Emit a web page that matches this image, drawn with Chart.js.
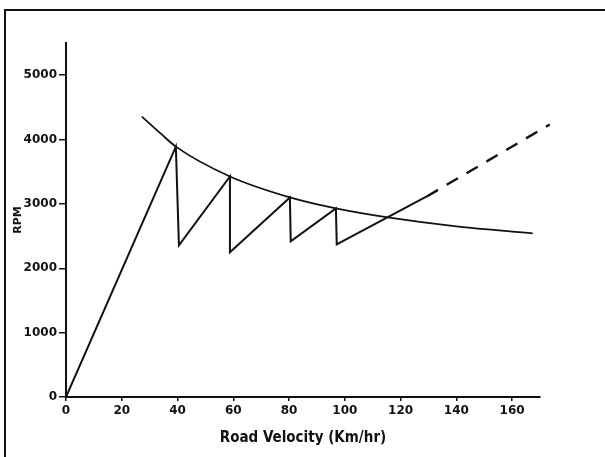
<!DOCTYPE html>
<html>
<head>
<meta charset="utf-8">
<title>RPM vs Road Velocity</title>
<script src="https://cdn.jsdelivr.net/npm/chart.js@4"></script>
<style>
  body { margin: 0; background: #fff; overflow: hidden; }
  #wrap { position: relative; width: 605px; height: 457px; }
  #frame { position: absolute; left: 4px; top: 9px; right: -10px; bottom: -10px;
           border-left: 2px solid #111; border-top: 2px solid #111; }
  #chart { position: absolute; left: 0; top: 0; }
</style>
</head>
<body>
<div id="wrap">
  <div id="frame"></div>
  <canvas id="chart" width="605" height="457"></canvas>
</div>
<script>
// Sawtooth of engine speed through the gears
const gearX = [0, 39.4, 40.5, 58.8, 58.8, 80.3, 80.6, 96.8, 97.1, 129.4];
const gearRpm = [0, 3890, 2357, 3426, 2248, 3101, 2419, 2930, 2372, 3116];

// Top gear continued (dashed)
const extX = [129.4, 173.5];
const extRpm = [3116, 4233];

// Upshift limit curve
const limitX = [27.2, 34.1, 39.4, 58.8, 80.3, 96.8, 115.4, 140, 167.4];
const limitRpm = [4357, 4088, 3890, 3426, 3101, 2930, 2790, 2651, 2543];

// Axis ticks
const xTicks = [0, 20, 40, 60, 80, 100, 120, 140, 160];
const yTicks = [0, 1000, 2000, 3000, 4000, 5000];

const toPoints = (xs, ys) => xs.map((x, i) => ({ x: x, y: ys[i] }));

const font = { family: 'DejaVu Sans', weight: 'bold', size: 12 };

new Chart(document.getElementById('chart').getContext('2d'), {
  type: 'line',
  data: {
    datasets: [
      {
        data: toPoints(gearX, gearRpm),
        borderColor: '#111',
        borderWidth: 2,
        pointRadius: 0,
        tension: 0
      },
      {
        data: toPoints(extX, extRpm),
        borderColor: '#111',
        borderWidth: 2.4,
        borderDash: [13, 10],
        pointRadius: 0,
        clip: 30
      },
      {
        data: toPoints(limitX, limitRpm),
        borderColor: '#111',
        borderWidth: 1.8,
        pointRadius: 0,
        cubicInterpolationMode: 'monotone'
      }
    ]
  },
  options: {
    responsive: false,
    animation: false,
    layout: { padding: { top: 43, right: 65, left: 12, bottom: 0 } },
    plugins: { legend: { display: false }, tooltip: { enabled: false } },
    scales: {
      x: {
        type: 'linear',
        min: 0,
        max: 170,
        afterBuildTicks: s => { s.ticks = xTicks.map(v => ({ value: v })); },
        afterFit: s => { s.height = 60; },
        border: { display: true, color: '#111', width: 2 },
        grid: { drawOnChartArea: false, color: '#111', tickLength: 4, lineWidth: 1.5 },
        ticks: { color: '#111', font: font, padding: 3, maxRotation: 0, callback: v => String(v) },
        title: {
          display: true,
          text: 'Road Velocity (Km/hr)',
          color: '#111',
          font: { family: 'DejaVu Sans Condensed', weight: 'bold', size: 15 },
          padding: { top: 0, bottom: 10 }
        }
      },
      y: {
        min: 0,
        max: 5500,
        afterBuildTicks: s => { s.ticks = yTicks.map(v => ({ value: v })); },
        afterFit: s => { s.width = 54; },
        border: { display: true, color: '#111', width: 2 },
        grid: { drawOnChartArea: false, color: '#111', tickLength: 7, lineWidth: 1.5 },
        ticks: { color: '#111', font: font, padding: 2, callback: v => String(v) },
        title: {
          display: true,
          text: 'RPM',
          color: '#111',
          font: { family: 'DejaVu Sans', weight: 'bold', size: 11 },
          padding: 0
        }
      }
    }
  }
});
</script>
</body>
</html>
